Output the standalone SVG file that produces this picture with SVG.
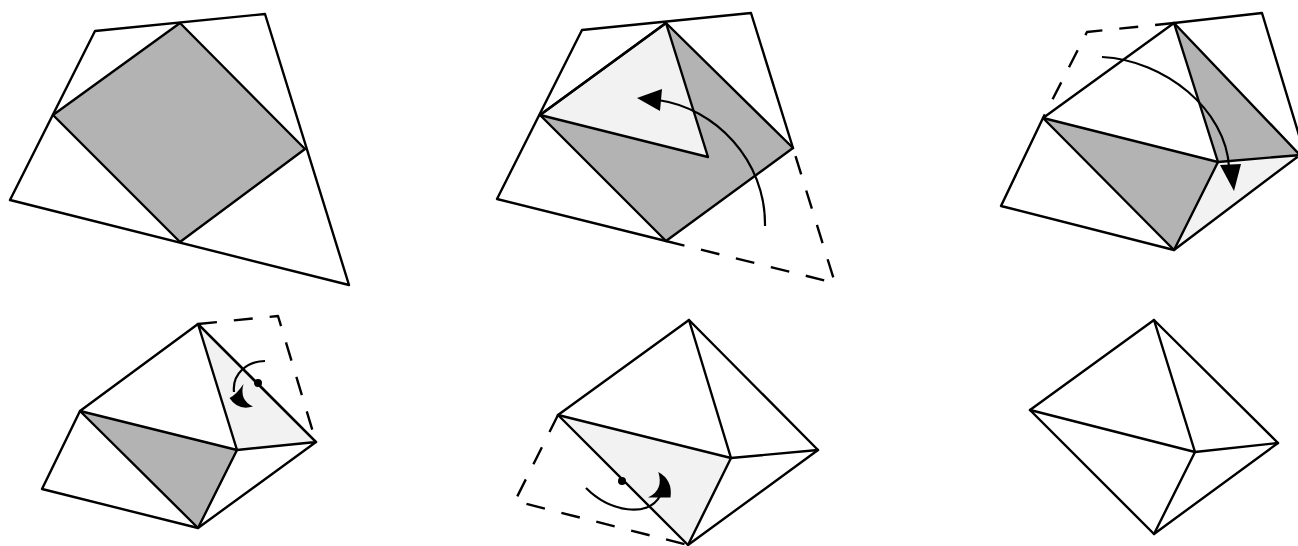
<svg xmlns="http://www.w3.org/2000/svg" width="1298" height="546" viewBox="0 0 1298 546">
<style>
.l{fill:none;stroke:#000;stroke-width:2.4;stroke-linejoin:round;stroke-linecap:round}
.d{fill:none;stroke:#000;stroke-width:2.4;stroke-dasharray:19 17;stroke-linejoin:round}
.a{fill:none;stroke:#000;stroke-width:2.2}
.g{fill:#b3b3b3;stroke:none}
.w{fill:#f2f2f2;stroke:none}
.k{fill:#000;stroke:none}
</style>
<rect width="1298" height="546" fill="#fff"/>
<g id="panel1">
<polygon class="g" points="180,23 305,149 180,242 53,115"/>
<polygon class="l" points="95,31 265,14 349,285 10,200"/>
<polygon class="l" points="180,23 305,149 180,242 53,115"/>
</g>
<g id="panel2">
<polygon class="g" points="666,23 793,148 666,241 540,115"/>
<polygon class="w" points="666,23 708,157 540,115"/>
<polyline class="l" points="793,148 751,13 582,30 497,199 666,241"/>
<polygon class="l" points="666,23 793,148 666,241 540,115"/>
<polygon class="l" points="666,23 708,157 540,115"/>
<polyline class="d" points="666,241 835,283 793,148"/>
<path class="a" d="M765,226 C766,160 715,108 658,100"/>
<polygon class="k" points="637,98 662,89 660,111"/>
</g>
<g id="panel3">
<polygon class="g" points="1043,118 1218,162 1174,250"/>
<polygon class="g" points="1174,23 1300,155 1218,162"/>
<polygon class="w" points="1218,162 1300,155 1174,250"/>
<polyline class="l" points="1174,23 1262,13 1305,155"/>
<polyline class="l" points="1043,118 1001,206 1174,250 1300,155 1174,23 1043,118 1218,162 1300,155"/>
<polyline class="l" points="1043,118 1174,250 1218,162 1174,23"/>
<polyline class="d" points="1174,23 1087,32 1043,118"/>
<path class="a" d="M1102,57 C1165,60 1226,110 1229,167"/>
<polygon class="k" points="1220,165 1241,164 1234,191"/>
</g>
<g id="panel4">
<polygon class="g" points="80,411 237,450 198,528"/>
<polygon class="w" points="198,324 316,442 237,450"/>
<polyline class="l" points="80,411 42,489 198,528 316,442 198,324 80,411 237,450 316,442"/>
<polyline class="l" points="80,411 198,528 237,450 198,324 316,442"/>
<polyline class="d" points="198,324 278,316 316,442"/>
<path class="a" d="M265,361 C247,361 232,374 234,392"/>
<circle class="k" cx="258" cy="383" r="4"/>
<path class="k" d="M243.5,384 Q236,395 229.5,398 Q238,411 253,406.5 Q239,400 243.5,384Z"/>
</g>
<g id="panel5">
<polygon class="w" points="558,415 731,458 688,545"/>
<polygon class="l" points="689,320 818,450 688,545 558,415"/>
<polyline class="l" points="558,415 731,458 818,450"/>
<polyline class="l" points="689,320 731,458 688,545"/>
<polyline class="d" points="558,415 515,501 688,545"/>
<path class="a" d="M586,488 C610,512 648,518 660,496"/>
<circle class="k" cx="622" cy="481" r="4"/>
<path class="k" d="M658.3,472 Q673,480 670.5,497.5 L648,497.5 Q664,490 658.3,472Z"/>
</g>
<g id="panel6">
<polygon class="l" points="1154,320 1278,443 1154,534 1030,410"/>
<polyline class="l" points="1030,410 1195,452 1278,443"/>
<polyline class="l" points="1154,320 1195,452 1154,534"/>
</g>
</svg>
